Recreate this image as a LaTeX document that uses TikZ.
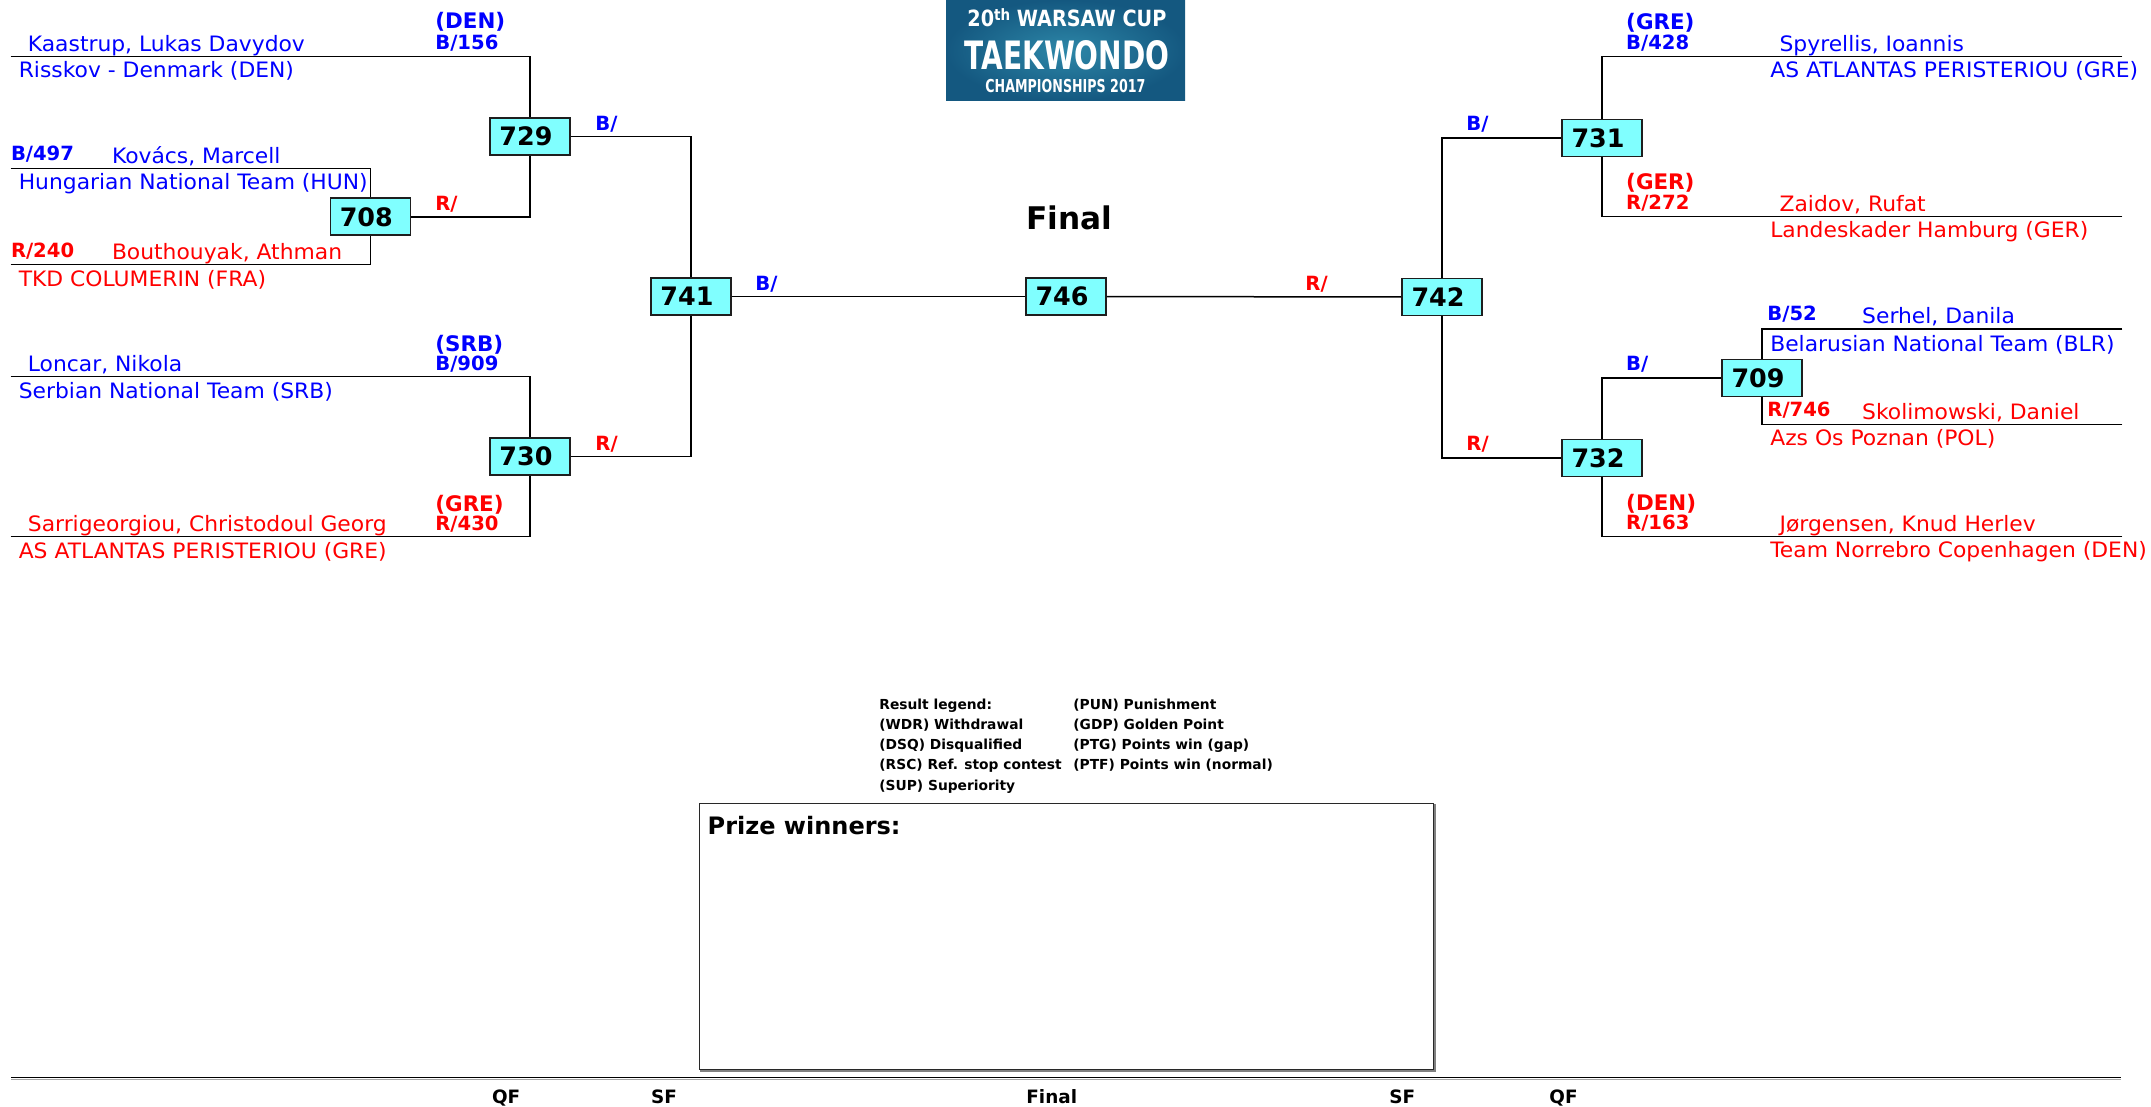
\documentclass[tikz,border=0pt]{standalone}
\usepackage{fontspec}
\setmainfont{DejaVu Sans}
\usetikzlibrary{shadings}
\definecolor{blueT}{RGB}{0,0,255}
\definecolor{redT}{RGB}{255,0,0}
\definecolor{boxcyan}{RGB}{128,255,255}
\definecolor{boxedge}{RGB}{30,30,30}
\definecolor{pwedge}{RGB}{40,40,40}
\definecolor{logoout}{RGB}{20,88,128}
\definecolor{logoin}{RGB}{45,135,168}
\begin{document}
\begin{tikzpicture}[x=0.5pt,y=-0.5pt,
  ln/.style={line width=0.75pt, black},
  match/.style={draw=boxedge, line width=0.8pt, fill=boxcyan, minimum width=40pt, minimum height=18.5pt, inner sep=0pt, font=\bfseries\fontsize{12.7}{12.7}\selectfont, execute at end node={\kern4pt}},
  nm/.style={anchor=base west, inner sep=0pt, font=\fontsize{10.6}{10.6}\selectfont\addfontfeature{FakeStretch=1.03}},
  lab/.style={anchor=base west, inner sep=0pt, font=\bfseries\fontsize{9.8}{9.8}\selectfont},
  ctry/.style={anchor=base west, inner sep=0pt, font=\bfseries\fontsize{10.7}{10.7}\selectfont},
  bl/.style={text=blueT}, rd/.style={text=redT},
  leg/.style={anchor=base west, inner sep=0pt, font=\bfseries\fontsize{6.9}{6.9}\selectfont},
  rnd/.style={anchor=base west, inner sep=0pt, font=\bfseries\fontsize{9.2}{9.2}\selectfont},
  logotxt/.style={anchor=base west, inner sep=0pt, text=white, font=\bfseries}
]
\useasboundingbox (0,0) rectangle (2151,1107);

% logo
\shade[inner color=logoin, outer color=logoout] (946,0) rectangle (1185,101);
\node[logotxt] (lg1) at (967,27) {\resizebox{99.5pt}{9pt}{20\raisebox{0.5ex}{\scriptsize th} WARSAW CUP}};
\node[logotxt] (lg2) at (964,70) {\resizebox{102.5pt}{14.5pt}{TAEKWONDO}};
\node[logotxt] (lg3) at (985,93) {\resizebox{80pt}{6.6pt}{CHAMPIONSHIPS 2017}};

% match boxes
\node[match] (m729) at (530,136.5) {729};
\node[match] (m708) at (370.3,216.8) {708};
\node[match] (m730) at (530,456.3) {730};
\node[match] (m741) at (691,296.5) {741};
\node[match] (m746) at (1066,296.5) {746};
\node[match] (m742) at (1442,297) {742};
\node[match] (m731) at (1602,138) {731};
\node[match] (m732) at (1602,458) {732};
\node[match] (m709) at (1762,378) {709};

% line end coordinates
\coordinate (a1) at (10.6,56.7);
\coordinate (a2) at (10.6,168.3);
\coordinate (a3) at (10.6,264.3);
\coordinate (a4) at (10.6,376.7);
\coordinate (a5) at (10.6,536.7);
\coordinate (b1) at (2122.4,56.7);
\coordinate (b2) at (2122.4,216.7);
\coordinate (b3) at (2122.4,329);
\coordinate (b4) at (2122.4,424.3);
\coordinate (b5) at (2122.4,536.7);

% connectors
\draw[ln] (a1) -| (m729.north);
\draw[ln] (a2) -| (m708.north);
\draw[ln] (a3) -| (m708.south);
\draw[ln] (m708.east) -| (m729.south);
\draw[ln] (m729.east) -| (m741.north);
\draw[ln] (a4) -| (m730.north);
\draw[ln] (a5) -| (m730.south);
\draw[ln] (m730.east) -| (m741.south);
\draw[ln] (m741.east) -- (m746.west);
\draw[ln] (m746.east) -- (m742.west);
\draw[ln] (b1) -| (m731.north);
\draw[ln] (b2) -| (m731.south);
\draw[ln] (m731.west) -| (m742.north);
\draw[ln] (m732.west) -| (m742.south);
\draw[ln] (m709.west) -| (m732.north);
\draw[ln] (b3) -| (m709.north);
\draw[ln] (b4) -| (m709.south);
\draw[ln] (b5) -| (m732.south);

% left texts
\node[ctry,bl] (t1) at (435,28.3) {(DEN)};
\node[lab,bl] (t2) at (435,50) {B/156};
\node[nm,bl] (t3) at (27.5,51.7) {Kaastrup, Lukas Davydov};
\node[nm,bl] (t4) at (18.4,77.7) {Risskov - Denmark (DEN)};
\node[lab,bl] (t5) at (595,130.7) {B/};
\node[lab,bl] (t6) at (10.6,161) {B/497};
\node[nm,bl] (t7) at (111.6,164) {Kovács, Marcell};
\node[nm,bl] (t8) at (18.4,190) {Hungarian National Team (HUN)};
\node[lab,rd] (t9) at (435,211) {R/};
\node[lab,rd] (t10) at (10.6,257.3) {R/240};
\node[nm,rd] (t11) at (111.6,260) {Bouthouyak, Athman};
\node[nm,rd] (t12) at (18.4,286) {TKD COLUMERIN (FRA)};
\node[lab,bl] (t13) at (755,290.7) {B/};
\node[ctry,bl] (t14) at (435,351.7) {(SRB)};
\node[lab,bl] (t15) at (435,370) {B/909};
\node[nm,bl] (t16) at (27.5,371.7) {Loncar, Nikola};
\node[nm,bl] (t17) at (18.4,398.3) {Serbian National Team (SRB)};
\node[lab,rd] (t18) at (595,450.7) {R/};
\node[ctry,rd] (t19) at (435,511.7) {(GRE)};
\node[lab,rd] (t20) at (435,530) {R/430};
\node[nm,rd] (t21) at (27.5,531.7) {Sarrigeorgiou, Christodoul Georg};
\node[nm,rd] (t22) at (18.4,558.3) {AS ATLANTAS PERISTERIOU (GRE)};

% right texts
\node[lab,rd] (u1) at (1305,290.7) {R/};
\node[ctry,bl] (u2) at (1625.8,29.3) {(GRE)};
\node[lab,bl] (u3) at (1625.8,50) {B/428};
\node[nm,bl] (u4) at (1779.2,51.7) {Spyrellis, Ioannis};
\node[nm,bl] (u5) at (1769.9,77.7) {AS ATLANTAS PERISTERIOU (GRE)};
\node[lab,bl] (u6) at (1466,130.7) {B/};
\node[ctry,rd] (u7) at (1625.8,190) {(GER)};
\node[lab,rd] (u8) at (1625.8,210) {R/272};
\node[nm,rd] (u9) at (1779.2,211.7) {Zaidov, Rufat};
\node[nm,rd] (u10) at (1769.9,237.7) {Landeskader Hamburg (GER)};
\node[lab,bl] (u11) at (1767,320.7) {B/52};
\node[nm,bl] (u12) at (1861.8,323.3) {Serhel, Danila};
\node[nm,bl] (u13) at (1769.9,351) {Belarusian National Team (BLR)};
\node[lab,bl] (u14) at (1625.8,370) {B/};
\node[lab,rd] (u15) at (1767,416.7) {R/746};
\node[nm,rd] (u16) at (1861.8,419.3) {Skolimowski, Daniel};
\node[nm,rd] (u17) at (1769.9,445.7) {Azs Os Poznan (POL)};
\node[lab,rd] (u18) at (1466,450) {R/};
\node[ctry,rd] (u19) at (1625.8,510) {(DEN)};
\node[lab,rd] (u20) at (1625.8,529.3) {R/163};
\node[nm,rd] (u21) at (1779.2,531.7) {Jørgensen, Knud Herlev};
\node[nm,rd] (u22) at (1769.9,557.7) {Team Norrebro Copenhagen (DEN)};

% title
\node[anchor=base west, inner sep=0pt, font=\bfseries\fontsize{15.6}{15.6}\selectfont] (ttl) at (1026,230) {Final};

% legend
\node[leg] (l1) at (879,709) {Result legend:};
\node[leg] (l2) at (879,729.3) {(WDR) Withdrawal};
\node[leg] (l3) at (879,749.6) {(DSQ) Disqualified};
\node[leg] (l4) at (879,769.9) {(RSC) Ref. stop contest};
\node[leg] (l5) at (879,790.2) {(SUP) Superiority};
\node[leg] (l6) at (1073,709) {(PUN) Punishment};
\node[leg] (l7) at (1073,729.3) {(GDP) Golden Point};
\node[leg] (l8) at (1073,749.6) {(PTG) Points win (gap)};
\node[leg] (l9) at (1073,769.9) {(PTF) Points win (normal)};

% prize winners box
\draw[line width=1pt, gray] (701.3,805.3) rectangle (1435.3,1071.3);
\draw[line width=0.8pt, fill=white, draw=pwedge] (699.3,803.3) rectangle (1433.3,1069.3);
\node[anchor=base west, inner sep=0pt, font=\bfseries\fontsize{12}{12}\selectfont] (pw) at (707.3,834) {Prize winners:};

% bottom rule and round labels
\coordinate (r1) at (11,1077.5);
\coordinate (r2) at (2121,1077.5);
\coordinate (r3) at (11,1079.5);
\coordinate (r4) at (2121,1079.5);
\draw[line width=0.6pt, gray!70] (r3) -- (r4);
\draw[line width=0.8pt, black] (r1) -- (r2);
\node[rnd] (q1) at (491.7,1103.3) {QF};
\node[rnd] (q2) at (650.7,1103.3) {SF};
\node[rnd] (q3) at (1026,1103.3) {Final};
\node[rnd] (q4) at (1389,1103.3) {SF};
\node[rnd] (q5) at (1549,1103.3) {QF};
\end{tikzpicture}
\end{document}
